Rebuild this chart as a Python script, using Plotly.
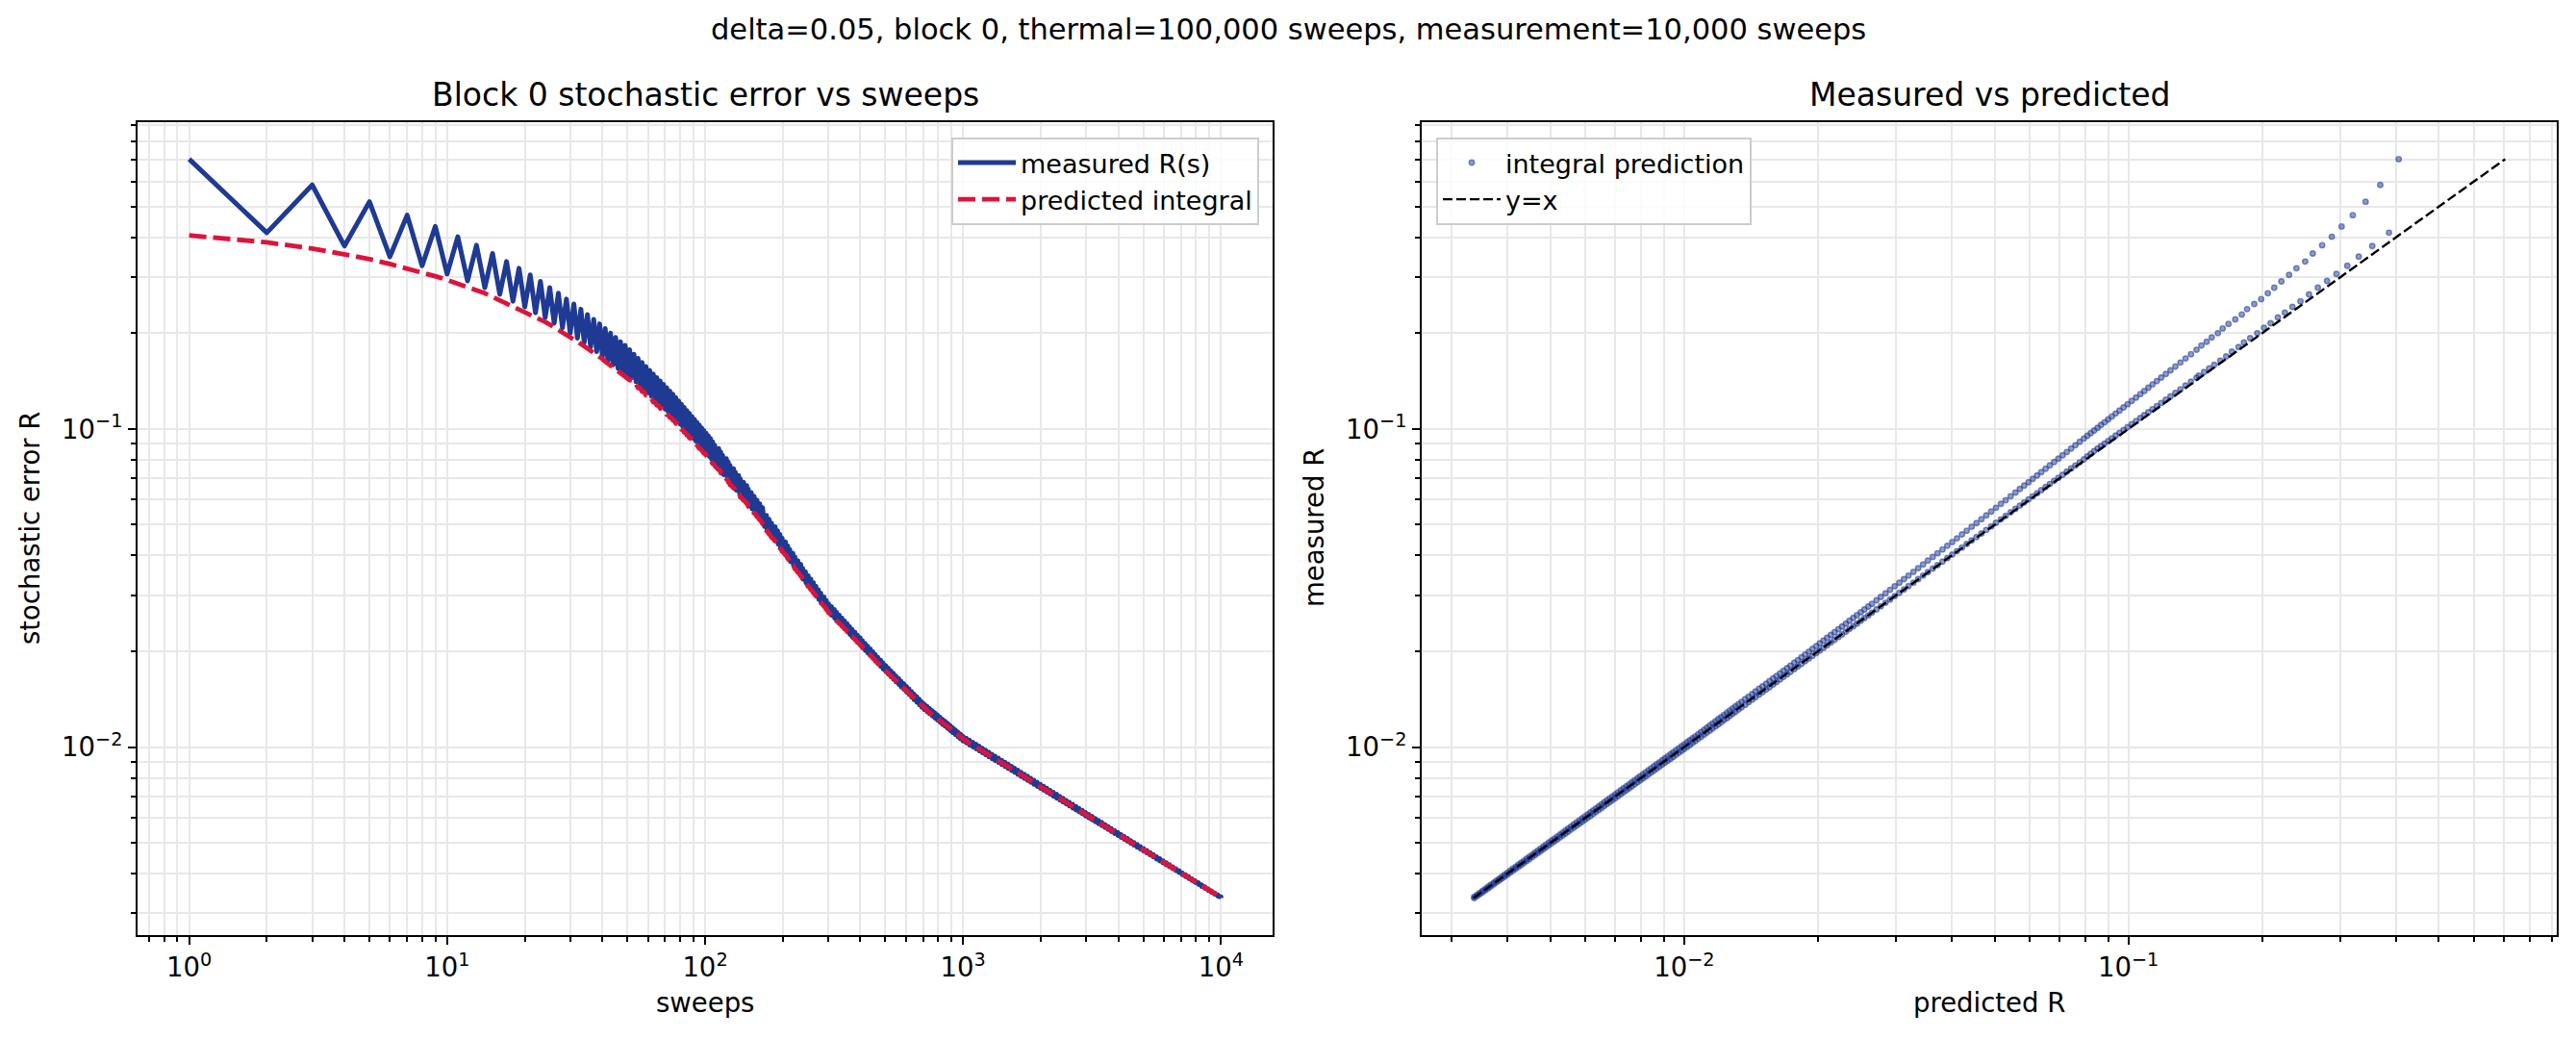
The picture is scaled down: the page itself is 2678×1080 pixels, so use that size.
import math
import plotly.graph_objects as go

# ---------------- data ----------------
# sweeps 1..50: every sweep read individually
early_sweeps = [
    1, 2, 3, 4, 5, 6, 7, 8, 9, 10, 11, 12, 13, 14, 15, 16, 17, 18, 19, 20,
    21, 22, 23, 24, 25, 26, 27, 28, 29, 30, 31, 32, 33, 34, 35, 36, 37, 38, 39, 40,
    41, 42, 43, 44, 45, 46, 47, 48, 49, 50,
]
early_pred = [
    0.406, 0.386, 0.369, 0.354, 0.342, 0.330, 0.320, 0.311, 0.302, 0.294,
    0.287, 0.280, 0.273, 0.267, 0.260, 0.255, 0.250, 0.244, 0.239, 0.234,
    0.230, 0.225, 0.221, 0.217, 0.213, 0.209, 0.206, 0.202, 0.199, 0.195,
    0.192, 0.188, 0.185, 0.182, 0.180, 0.177, 0.174, 0.171, 0.168, 0.166,
    0.163, 0.161, 0.159, 0.156, 0.154, 0.152, 0.150, 0.148, 0.146, 0.144,
]
early_meas = [
    0.705, 0.414, 0.585, 0.376, 0.518, 0.348, 0.470, 0.326, 0.433, 0.307,
    0.402, 0.292, 0.378, 0.278, 0.356, 0.265, 0.336, 0.252, 0.320, 0.242,
    0.305, 0.232, 0.291, 0.224, 0.278, 0.215, 0.267, 0.208, 0.256, 0.200,
    0.247, 0.193, 0.238, 0.187, 0.229, 0.181, 0.221, 0.175, 0.214, 0.169,
    0.207, 0.164, 0.200, 0.159, 0.194, 0.155, 0.188, 0.151, 0.183, 0.147,
]

# later sweeps as (odd, even) pairs: odd sweeps sit on the upper envelope,
# even sweeps on the lower envelope
pair_odd_sweeps = [
    51, 53, 55, 57, 59, 61, 63, 65, 67, 69, 71, 73, 75, 77, 79, 81, 83, 85, 87, 89,
    91, 93, 95, 97, 99,
    101, 103, 105, 107, 109, 113, 115, 117, 121, 123,
    125, 129, 131, 135, 137, 141, 145, 147, 151, 155,
    159, 163, 167, 169, 173, 177, 181, 187, 191, 195,
    199, 205, 209, 213, 219, 223, 229, 235, 239, 245,
    251, 257, 263, 269, 275, 281, 289, 295, 301, 309,
    317, 323, 331, 339, 347, 355, 363, 371, 381, 389,
    399, 407, 417, 427, 437, 447, 457, 467, 479, 489,
    501, 513, 525, 537, 549, 563, 575, 589, 603, 617,
    631, 645, 661, 677, 691, 707, 725, 741, 759, 777,
    795, 813, 831, 851, 871, 891, 911, 933, 955, 977,
    999,
    1029, 1059, 1091, 1123, 1155, 1189, 1223, 1259, 1295, 1333,
    1373, 1413, 1455, 1497, 1541, 1585, 1631, 1679, 1729, 1779,
    1831, 1883, 1939, 1995, 2053, 2113, 2175, 2239, 2305, 2371,
    2441, 2511, 2585, 2661, 2739, 2819, 2901, 2985, 3073, 3163,
    3255, 3349, 3449, 3549, 3651, 3759, 3867, 3981, 4097, 4217,
    4339, 4467, 4597, 4731, 4869, 5011, 5159, 5309, 5463, 5623,
    5787, 5957, 6131, 6309, 6495, 6683, 6879, 7079, 7287, 7499,
    7719, 7943, 8177, 8413, 8659, 8913, 9171, 9441, 9715, 9999,
]
pair_even_sweeps = [
    52, 54, 56, 58, 60, 62, 64, 66, 68, 70, 72, 74, 76, 78, 80, 82, 84, 86, 88, 90,
    92, 94, 96, 98, 100,
    102, 104, 106, 108, 110, 114, 116, 118, 122, 124,
    126, 130, 132, 136, 138, 142, 146, 148, 152, 156,
    160, 164, 168, 170, 174, 178, 182, 188, 192, 196,
    200, 206, 210, 214, 220, 224, 230, 236, 240, 246,
    252, 258, 264, 270, 276, 282, 290, 296, 302, 310,
    318, 324, 332, 340, 348, 356, 364, 372, 382, 390,
    400, 408, 418, 428, 438, 448, 458, 468, 480, 490,
    502, 514, 526, 538, 550, 564, 576, 590, 604, 618,
    632, 646, 662, 678, 692, 708, 726, 742, 760, 778,
    796, 814, 832, 852, 872, 892, 912, 934, 956, 978,
    1000,
    1030, 1060, 1092, 1124, 1156, 1190, 1224, 1260, 1296, 1334,
    1374, 1414, 1456, 1498, 1542, 1586, 1632, 1680, 1730, 1780,
    1832, 1884, 1940, 1996, 2054, 2114, 2176, 2240, 2306, 2372,
    2442, 2512, 2586, 2662, 2740, 2820, 2902, 2986, 3074, 3164,
    3256, 3350, 3450, 3550, 3652, 3760, 3868, 3982, 4098, 4218,
    4340, 4468, 4598, 4732, 4870, 5012, 5160, 5310, 5464, 5624,
    5788, 5958, 6132, 6310, 6496, 6684, 6880, 7080, 7288, 7500,
    7720, 7944, 8178, 8414, 8660, 8914, 9172, 9442, 9716, 10000,
]
pair_pred = [
    0.14236, 0.13831, 0.13447, 0.13092, 0.12756, 0.12437, 0.12140, 0.11855,
    0.11588, 0.11332, 0.11090, 0.10859, 0.10639, 0.10402, 0.10174, 0.09956,
    0.09750, 0.09550, 0.09361, 0.09179, 0.09003, 0.08837, 0.08676, 0.08521,
    0.08372,
    0.08225, 0.08081, 0.07939, 0.07768, 0.07596, 0.07432, 0.07267, 0.07111, 0.06954, 0.06804,
    0.06653, 0.06510, 0.06366, 0.06228, 0.06090, 0.05959, 0.05827, 0.05697, 0.05567, 0.05430,
    0.05293, 0.05163, 0.05033, 0.04910, 0.04786, 0.04668, 0.04549, 0.04437, 0.04325, 0.04219,
    0.04112, 0.04012, 0.03911, 0.03815, 0.03718, 0.03627, 0.03535, 0.03449, 0.03363, 0.03281,
    0.03198, 0.03124, 0.03050, 0.02979, 0.02907, 0.02839, 0.02771, 0.02709, 0.02646, 0.02596,
    0.02545, 0.02497, 0.02448, 0.02402, 0.02355, 0.02311, 0.02266, 0.02223, 0.02180, 0.02139,
    0.02097, 0.02058, 0.02019, 0.01982, 0.01944, 0.01908, 0.01871, 0.01837, 0.01802, 0.01769,
    0.01735, 0.01704, 0.01673, 0.01643, 0.01613, 0.01585, 0.01556, 0.01529, 0.01501, 0.01474,
    0.01447, 0.01422, 0.01396, 0.01371, 0.01346, 0.01325, 0.01304, 0.01285, 0.01266, 0.01248,
    0.01229, 0.01211, 0.01193, 0.01176, 0.01158, 0.01141, 0.01124, 0.01108, 0.01091, 0.01075,
    0.01059,
    0.010442, 0.010294, 0.010149, 0.010003, 0.009862, 0.009720, 0.009583, 0.009446, 0.009313, 0.009179,
    0.009050, 0.008920, 0.008794, 0.008668, 0.008546, 0.008423, 0.008304, 0.008185, 0.008070, 0.007954,
    0.007842, 0.007729, 0.007620, 0.007511, 0.007405, 0.007299, 0.007196, 0.007093, 0.006993, 0.006892,
    0.006795, 0.006698, 0.006603, 0.006508, 0.006417, 0.006325, 0.006236, 0.006146, 0.006059, 0.005972,
    0.005888, 0.005804, 0.005722, 0.005640, 0.005560, 0.005480, 0.005403, 0.005326, 0.005251, 0.005175,
    0.005102, 0.005029, 0.004958, 0.004887, 0.004818, 0.004749, 0.004682, 0.004615, 0.004550, 0.004484,
    0.004421, 0.004358, 0.004297, 0.004235, 0.004175, 0.004115, 0.004057, 0.003999, 0.003943, 0.003886,
    0.003831, 0.003776, 0.003723, 0.003669, 0.003618, 0.003566, 0.003516, 0.003465, 0.003416, 0.003367,
]
pair_meas_odd = [
    0.17737, 0.17181, 0.16658, 0.16174, 0.15719, 0.15288, 0.14889, 0.14502,
    0.14143, 0.13802, 0.13477, 0.13165, 0.12869, 0.12556, 0.12253, 0.11965,
    0.11693, 0.11429, 0.11183, 0.10945, 0.10715, 0.10498, 0.10288, 0.10085,
    0.09893,
    0.09702, 0.09514, 0.09330, 0.09108, 0.08886, 0.08675, 0.08464, 0.08264, 0.08063, 0.07871,
    0.07679, 0.07497, 0.07314, 0.07141, 0.06968, 0.06802, 0.06636, 0.06475, 0.06313, 0.06144,
    0.05974, 0.05813, 0.05652, 0.05500, 0.05348, 0.05205, 0.05061, 0.04925, 0.04789, 0.04660,
    0.04531, 0.04412, 0.04292, 0.04180, 0.04067, 0.03961, 0.03854, 0.03753, 0.03651, 0.03555,
    0.03459, 0.03373, 0.03286, 0.03204, 0.03121, 0.03043, 0.02965, 0.02893, 0.02821, 0.02765,
    0.02708, 0.02654, 0.02599, 0.02547, 0.02495, 0.02445, 0.02394, 0.02346, 0.02298, 0.02252,
    0.02206, 0.02162, 0.02118, 0.02077, 0.02035, 0.01995, 0.01954, 0.01916, 0.01877, 0.01841,
    0.01804, 0.01771, 0.01737, 0.01705, 0.01673, 0.01643, 0.01612, 0.01582, 0.01552, 0.01524,
    0.01495, 0.01468, 0.01440, 0.01414, 0.01387, 0.01365, 0.01343, 0.01323, 0.01302, 0.01282,
    0.01262, 0.01243, 0.01224, 0.01206, 0.01187, 0.01169, 0.01151, 0.01133, 0.01115, 0.01098,
    0.01081,
    0.010658, 0.010506, 0.010356, 0.010205, 0.010059, 0.009913, 0.009772, 0.009630, 0.009492, 0.009354,
    0.009221, 0.009087, 0.008957, 0.008827, 0.008701, 0.008575, 0.008452, 0.008329, 0.008210, 0.008091,
    0.007975, 0.007859, 0.007747, 0.007635, 0.007526, 0.007417, 0.007311, 0.007205, 0.007102, 0.006998,
    0.006898, 0.006798, 0.006701, 0.006603, 0.006509, 0.006415, 0.006323, 0.006231, 0.006142, 0.006053,
    0.005967, 0.005880, 0.005796, 0.005711, 0.005629, 0.005547, 0.005468, 0.005388, 0.005311, 0.005233,
    0.005158, 0.005083, 0.005011, 0.004938, 0.004867, 0.004796, 0.004728, 0.004659, 0.004592, 0.004524,
    0.004460, 0.004395, 0.004332, 0.004269, 0.004208, 0.004147, 0.004088, 0.004028, 0.003970, 0.003912,
    0.003856, 0.003800, 0.003746, 0.003691, 0.003639, 0.003586, 0.003534, 0.003482, 0.003432, 0.003382,
]
pair_meas_even = [
    0.14492, 0.14080, 0.13689, 0.13328, 0.12986, 0.12661, 0.12359, 0.12068,
    0.11797, 0.11536, 0.11290, 0.11054, 0.10830, 0.10589, 0.10357, 0.10135,
    0.09926, 0.09722, 0.09529, 0.09344, 0.09165, 0.08996, 0.08832, 0.08674,
    0.08523,
    0.08355, 0.08190, 0.08028, 0.07853, 0.07677, 0.07509, 0.07341, 0.07182, 0.07022, 0.06868,
    0.06714, 0.06568, 0.06422, 0.06282, 0.06141, 0.06007, 0.05873, 0.05741, 0.05608, 0.05469,
    0.05330, 0.05198, 0.05066, 0.04941, 0.04815, 0.04695, 0.04574, 0.04461, 0.04347, 0.04239,
    0.04131, 0.04029, 0.03926, 0.03830, 0.03733, 0.03640, 0.03546, 0.03459, 0.03371, 0.03288,
    0.03205, 0.03130, 0.03055, 0.02983, 0.02910, 0.02841, 0.02772, 0.02709, 0.02646, 0.02595,
    0.02543, 0.02494, 0.02445, 0.02398, 0.02351, 0.02306, 0.02261, 0.02218, 0.02174, 0.02132,
    0.02090, 0.02051, 0.02012, 0.01974, 0.01936, 0.01899, 0.01862, 0.01827, 0.01792, 0.01759,
    0.01725, 0.01694, 0.01662, 0.01632, 0.01602, 0.01573, 0.01544, 0.01517, 0.01489, 0.01462,
    0.01435, 0.01409, 0.01383, 0.01358, 0.01333, 0.01312, 0.01291, 0.01272, 0.01253, 0.01234,
    0.01215, 0.01197, 0.01179, 0.01162, 0.01144, 0.01127, 0.01110, 0.01094, 0.01077, 0.01061,
    0.01045,
    0.010302, 0.010154, 0.010011, 0.009868, 0.009729, 0.009590, 0.009455, 0.009320, 0.009190, 0.009059,
    0.008932, 0.008804, 0.008680, 0.008556, 0.008436, 0.008315, 0.008199, 0.008082, 0.007969, 0.007855,
    0.007744, 0.007633, 0.007526, 0.007419, 0.007315, 0.007211, 0.007110, 0.007008, 0.006909, 0.006810,
    0.006715, 0.006619, 0.006526, 0.006432, 0.006342, 0.006252, 0.006164, 0.006076, 0.005991, 0.005905,
    0.005823, 0.005741, 0.005661, 0.005581, 0.005503, 0.005424, 0.005349, 0.005274, 0.005200, 0.005126,
    0.005055, 0.004983, 0.004914, 0.004844, 0.004776, 0.004708, 0.004643, 0.004577, 0.004513, 0.004449,
    0.004387, 0.004325, 0.004265, 0.004204, 0.004146, 0.004087, 0.004030, 0.003973, 0.003918, 0.003862,
    0.003808, 0.003753, 0.003701, 0.003648, 0.003598, 0.003547, 0.003498, 0.003448, 0.003400, 0.003351,
]

suptitle = "delta=0.05, block 0, thermal=100,000 sweeps, measurement=10,000 sweeps"
left_title = "Block 0 stochastic error vs sweeps"
right_title = "Measured vs predicted"

n_pairs = len(pair_odd_sweeps)
assert all(len(a) == n_pairs for a in
           (pair_even_sweeps, pair_pred, pair_meas_odd, pair_meas_even))

# ---------------- assemble the series in sweep order ----------------
sweeps = list(early_sweeps)
predicted_R = list(early_pred)
measured_R = list(early_meas)
for so, se, p, mo, me in zip(pair_odd_sweeps, pair_even_sweeps, pair_pred,
                             pair_meas_odd, pair_meas_even):
    sweeps += [so, se]
    predicted_R += [p, p]
    measured_R += [mo, me]

# ---------------- style ----------------
W, H = 2678, 1080
ML, MR, MT, MB = 143, 20, 127, 108
PW, PH = W - ML - MR, H - MT - MB
FONT = "DejaVu Sans"
BLUE = "#1f3a93"
RED = "#dc143c"
GRID = "#e8e8e8"
TICKFS = 27.5


def px_x(px):
    return (px - ML) / PW


def px_y(py):
    return (H - MB - py) / PH


def padded_log_range(values):
    lo, hi = math.log10(min(values)), math.log10(max(values))
    m = 0.05 * (hi - lo)
    return [lo - m, hi + m]


def log_axis(rng, domain, anchor):
    majors = [e for e in range(math.floor(rng[0]), math.ceil(rng[1]) + 1)
              if rng[0] <= e <= rng[1]]
    minors = []
    for e in range(math.floor(rng[0]) - 1, math.ceil(rng[1]) + 1):
        for k in range(2, 10):
            v = k * 10.0 ** e
            if rng[0] <= math.log10(v) <= rng[1]:
                minors.append(v)
    return dict(
        type="log", range=rng, domain=domain, anchor=anchor,
        tickvals=[10.0 ** e for e in majors],
        ticktext=["10<sup>%s</sup>" % str(e).replace("-", "\u2212") for e in majors],
        tickfont=dict(family=FONT, size=TICKFS, color="black"),
        ticks="outside", ticklen=8, tickwidth=2, tickcolor="black",
        showline=True, linecolor="black", linewidth=2.2, mirror=True,
        showgrid=True, gridcolor=GRID, gridwidth=1.8, zeroline=False,
        minor=dict(tickvals=minors, ticks="outside", ticklen=4.5, tickwidth=1.5,
                   tickcolor="black", showgrid=True, gridcolor=GRID, gridwidth=1.8),
    )


all_R = predicted_R + measured_R
r_lo, r_hi = min(all_R), max(all_R)

fig = go.Figure()

# left panel
fig.add_trace(go.Scatter(
    x=sweeps, y=measured_R, mode="lines", name="measured R(s)",
    line=dict(color=BLUE, width=5), xaxis="x", yaxis="y", legend="legend"))
fig.add_trace(go.Scatter(
    x=sweeps, y=predicted_R, mode="lines", name="predicted integral",
    line=dict(color=RED, width=4.8, dash="18px,7px"), xaxis="x", yaxis="y",
    legend="legend"))

# right panel
fig.add_trace(go.Scatter(
    x=predicted_R, y=measured_R, mode="markers", name="integral prediction",
    marker=dict(size=5.5, color="rgba(31,58,147,0.5)",
                line=dict(width=1.4, color="rgba(31,58,147,0.55)")),
    xaxis="x2", yaxis="y2", legend="legend2"))
fig.add_trace(go.Scatter(
    x=[r_lo, r_hi], y=[r_lo, r_hi], mode="lines", name="y=x",
    line=dict(color="black", width=2.4, dash="10px,4px"),
    xaxis="x2", yaxis="y2", legend="legend2"))

x_left_rng = padded_log_range(sweeps)
y_rng = padded_log_range(all_R)
x_right_rng = padded_log_range(predicted_R + [r_lo, r_hi])

left_dom = [0, px_x(1323)]
right_dom = [px_x(1478), 1]

legend_common = dict(
    font=dict(family=FONT, size=27, color="black"),
    bgcolor="rgba(255,255,255,0.8)", bordercolor="#cccccc", borderwidth=2,
    itemwidth=60, yanchor="top", y=px_y(143), xref="paper", yref="paper",
)

fig.update_layout(
    width=W, height=H,
    margin=dict(l=ML, r=MR, t=MT, b=MB, pad=0),
    paper_bgcolor="white", plot_bgcolor="white",
    font=dict(family=FONT, color="black"),
    xaxis=log_axis(x_left_rng, left_dom, "y"),
    yaxis=log_axis(y_rng, [0, 1], "x"),
    xaxis2=log_axis(x_right_rng, right_dom, "y2"),
    yaxis2=log_axis(y_rng, [0, 1], "x2"),
    legend=dict(legend_common, x=px_x(1309), xanchor="right"),
    legend2=dict(legend_common, x=px_x(1493), xanchor="left"),
    showlegend=True,
)

ann = [
    dict(text=suptitle, x=px_x(1339), y=px_y(31), size=30.5),
    dict(text=left_title, x=px_x(733), y=px_y(99), size=33),
    dict(text=right_title, x=px_x(2068), y=px_y(99), size=33),
    dict(text="sweeps", x=px_x(733), y=px_y(1042), size=27.5),
    dict(text="predicted R", x=px_x(2068), y=px_y(1042), size=27.5),
    dict(text="stochastic error R", x=px_x(31), y=px_y(549), size=27.5, angle=-90),
    dict(text="measured R", x=px_x(1366), y=px_y(549), size=27.5, angle=-90),
]
for a in ann:
    fig.add_annotation(
        text=a["text"], x=a["x"], y=a["y"], xref="paper", yref="paper",
        xanchor="center", yanchor="middle", showarrow=False,
        textangle=a.get("angle", 0),
        font=dict(family=FONT, size=a["size"], color="black"))

# round line joins (as matplotlib draws them) so the dense zigzag has no miter spikes
round_joins = (
    "var st=document.createElement('style');"
    "st.innerHTML='.js-line{stroke-linejoin:round !important;}';"
    "document.head.appendChild(st);"
)

fig.write_html("out.html", post_script=round_joins)
